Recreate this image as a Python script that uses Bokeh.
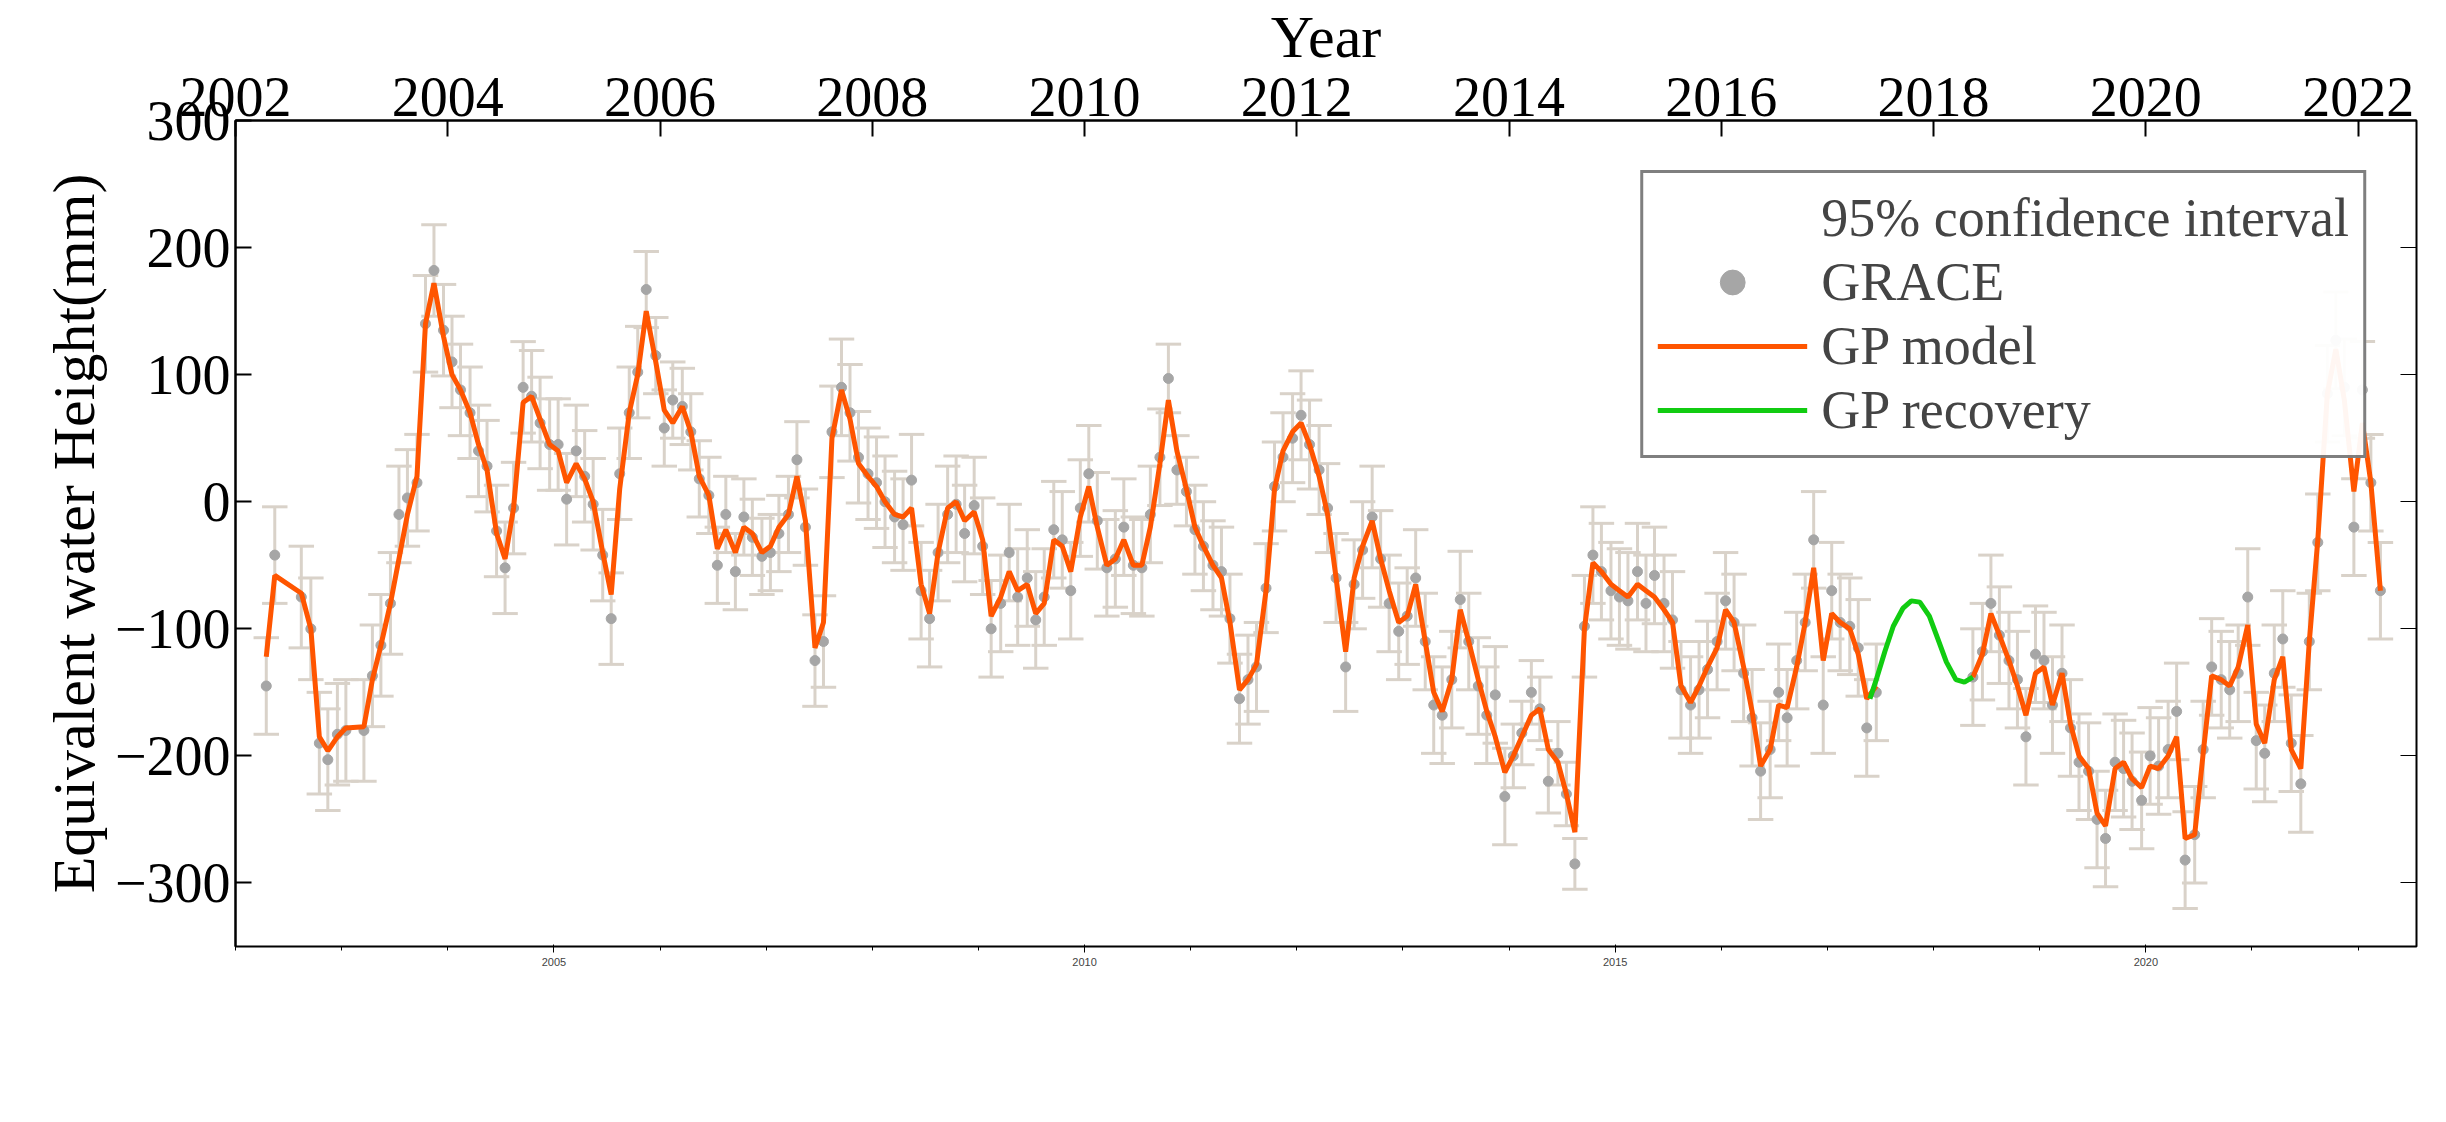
from bokeh.plotting import figure
from bokeh.models import Range1d, Legend, LegendItem, FixedTicker, LinearAxis
from bokeh.embed import file_html
from bokeh.resources import INLINE

# GP model (year, mm)
model_t = [2002.29,2002.37,2002.62,2002.71,2002.79,2002.87,2002.96,
 2003.04,2003.21,2003.29,2003.37,2003.46,2003.54,2003.62,2003.71,2003.79,2003.87,2003.96,
 2004.04,2004.12,2004.21,2004.29,2004.37,2004.46,2004.54,2004.62,2004.71,2004.79,2004.87,2004.96,
 2005.04,2005.12,2005.21,2005.29,2005.37,2005.46,2005.54,2005.62,2005.71,2005.79,2005.87,2005.96,
 2006.04,2006.12,2006.21,2006.29,2006.37,2006.46,2006.54,2006.62,2006.71,2006.79,2006.87,2006.96,
 2007.04,2007.12,2007.21,2007.29,2007.37,2007.46,2007.54,2007.62,2007.71,2007.79,2007.87,2007.96,
 2008.04,2008.12,2008.21,2008.29,2008.37,2008.46,2008.54,2008.62,2008.71,2008.79,2008.87,2008.96,
 2009.04,2009.12,2009.21,2009.29,2009.37,2009.46,2009.54,2009.62,2009.71,2009.79,2009.87,2009.96,
 2010.04,2010.12,2010.21,2010.29,2010.37,2010.46,2010.54,2010.62,2010.71,2010.79,2010.87,2010.96,
 2011.04,2011.12,2011.21,2011.29,2011.37,2011.46,2011.54,2011.62,2011.71,2011.79,2011.87,2011.96,
 2012.04,2012.12,2012.21,2012.29,2012.37,2012.46,2012.54,2012.62,2012.71,2012.79,2012.87,2012.96,
 2013.04,2013.12,2013.21,2013.29,2013.37,2013.46,2013.54,2013.62,2013.71,2013.79,2013.87,2013.96,
 2014.04,2014.12,2014.21,2014.29,2014.37,2014.46,2014.54,2014.62,2014.71,2014.79,2014.87,2014.96,
 2015.04,2015.12,2015.21,2015.29,2015.37,2015.46,2015.54,2015.62,2015.71,2015.79,2015.87,2015.96,
 2016.04,2016.12,2016.21,2016.29,2016.37,2016.46,2016.54,2016.62,2016.71,2016.79,2016.87,2016.96,
 2017.04,2017.12,2017.21,2017.29,2017.37,2017.46,
 2018.37,2018.46,2018.54,2018.62,2018.71,2018.79,2018.87,2018.96,
 2019.04,2019.12,2019.21,2019.29,2019.37,2019.46,2019.54,2019.62,2019.71,2019.79,2019.87,2019.96,
 2020.04,2020.12,2020.21,2020.29,2020.37,2020.46,2020.54,2020.62,2020.71,2020.79,2020.87,2020.96,
 2021.04,2021.12,2021.21,2021.29,2021.37,2021.46,2021.54,2021.62,2021.71,2021.79,2021.87,2021.96,
 2022.04,2022.12,2022.21]
model_v = [-122,-58,-72,-100,-185,-196,-185,
 -178,-177,-140,-113,-80,-45,-10,20,140,172,130,
 100,88,70,45,25,-25,-45,-5,78,83,65,45,
 40,15,30,18,0,-40,-73,10,70,100,150,110,
 72,62,75,55,20,5,-37,-22,-40,-20,-25,-40,
 -35,-20,-10,20,-15,-115,-95,50,88,65,30,20,
 12,0,-10,-12,-5,-65,-88,-40,-5,0,-15,-8,
 -30,-90,-75,-55,-70,-65,-88,-80,-30,-35,-55,-12,
 12,-20,-50,-45,-30,-50,-50,-20,30,80,40,10,
 -20,-35,-50,-60,-95,-148,-140,-128,-70,10,40,55,
 62,45,20,-10,-60,-118,-60,-35,-15,-45,-70,-95,
 -90,-65,-110,-150,-165,-140,-85,-110,-140,-165,-185,-213,
 -200,-185,-168,-163,-195,-205,-230,-260,-100,-48,-55,-65,
 -70,-75,-65,-70,-75,-85,-95,-145,-158,-145,-130,-115,
 -85,-95,-130,-165,-208,-195,-160,-162,-130,-95,-52,-125,
 -88,-95,-100,-120,-155,-145,
 -138,-120,-88,-105,-125,-145,-168,-135,
 -130,-160,-135,-175,-200,-210,-245,-255,-210,-205,-218,-225,
 -208,-210,-200,-185,-265,-262,-198,-137,-140,-145,-130,-97,
 -175,-190,-140,-122,-195,-210,-110,-30,85,120,80,8,
 62,15,-70]

# GRACE observations (same epochs as model)
grace_v = [-145,-42,-75,-100,-190,-203,-183,
 -180,-180,-137,-113,-80,-10,3,15,140,182,135,
 110,88,70,40,28,-23,-52,-5,90,83,62,45,
 45,2,40,20,-2,-42,-92,22,70,102,167,115,
 58,80,75,55,18,5,-50,-10,-55,-12,-28,-43,
 -40,-25,-10,33,-20,-125,-110,55,90,70,35,22,
 15,0,-12,-18,17,-70,-92,-40,-10,-2,-25,-3,
 -35,-100,-80,-40,-75,-60,-93,-75,-22,-30,-70,-5,
 22,-15,-52,-45,-20,-50,-52,-10,35,97,25,8,
 -22,-35,-50,-55,-92,-155,-140,-130,-68,12,35,50,
 68,45,25,-5,-60,-130,-65,-38,-12,-45,-80,-102,
 -90,-60,-110,-160,-168,-140,-77,-110,-145,-168,-152,-232,
 -200,-182,-150,-163,-220,-198,-230,-285,-98,-42,-55,-70,
 -75,-78,-55,-80,-58,-80,-93,-148,-160,-148,-132,-110,
 -78,-95,-135,-170,-212,-195,-150,-170,-125,-95,-30,-160,
 -70,-95,-98,-115,-178,-150,
 -138,-118,-80,-105,-125,-140,-185,-120,
 -125,-160,-135,-178,-205,-212,-250,-265,-205,-210,-220,-235,
 -200,-208,-195,-165,-282,-262,-195,-130,-140,-148,-135,-75,
 -188,-198,-135,-108,-190,-222,-110,-32,85,127,90,-20,
 88,15,-70]
grace_err = [38,38,40,40,40,40,40,
 40,40,40,40,40,38,38,38,38,36,36,
 36,36,36,36,36,36,36,36,36,36,36,36,
 36,36,36,36,36,36,36,36,36,36,30,30,
 30,30,30,30,30,30,30,30,30,30,30,30,
 30,30,30,30,30,36,36,36,38,38,36,36,
 36,36,36,36,36,38,38,38,38,38,38,38,
 38,38,38,38,38,38,38,38,38,38,38,38,
 38,38,38,38,38,38,38,38,38,27,27,27,
 35,35,35,35,35,35,35,35,35,35,35,35,
 35,35,35,35,35,35,35,38,40,38,38,38,
 38,38,38,38,38,38,38,38,38,38,38,38,
 25,25,25,25,25,25,25,20,40,38,38,38,
 38,38,38,38,38,38,38,38,38,38,38,38,
 38,38,38,38,38,38,38,38,38,38,38,38,
 38,38,38,38,38,38,
 38,38,38,38,38,38,38,38,
 38,38,38,38,38,38,38,38,38,38,38,38,
 38,38,38,38,38,38,38,38,38,38,38,38,
 38,38,38,38,38,38,38,38,38,38,38,38,
 38,38,38]

# GP recovery (gap)
rec_t = [2017.40,2017.46,2017.54,2017.62,2017.71,2017.79,2017.87,2017.96,2018.04,2018.12,2018.21,2018.29,2018.37]
rec_v = [-155,-140,-118,-98,-84,-78,-79,-90,-108,-126,-140,-142,-138]

x_ticks = [2002,2004,2006,2008,2010,2012,2014,2016,2018,2020,2022]
y_ticks = [-300,-200,-100,0,100,200,300]

FONT = "Liberation Serif"
p = figure(width=2430, height=1106, output_backend="svg", toolbar_location=None,
           x_range=Range1d(2002, 2022.55), y_range=Range1d(-350, 300),
           min_border_left=235, min_border_right=14, min_border_top=36, min_border_bottom=160)
p.grid.visible = False
p.outline_line_color = "black"
p.outline_line_width = 2
p.background_fill_color = "white"

hw = 0.12
lo = [v - e for v, e in zip(grace_v, grace_err)]
hi = [v + e for v, e in zip(grace_v, grace_err)]
xl = [t - hw for t in model_t]
xr = [t + hw for t in model_t]
ecol = "#d9d2c9"
p.segment(model_t, lo, model_t, hi, line_color=ecol, line_width=3)
p.segment(xl, lo, xr, lo, line_color=ecol, line_width=3)
p.segment(xl, hi, xr, hi, line_color=ecol, line_width=3)
gr = p.scatter(model_t, grace_v, size=10, fill_color="#a6a6a6", line_color="#a6a6a6")
ml = p.line(model_t[:180], model_v[:180], line_color="#ff5500", line_width=5)
p.line(model_t[180:], model_v[180:], line_color="#ff5500", line_width=5)
rl = p.line(rec_t, rec_v, line_color="#11cc11", line_width=5)

# legend-only proxies
eb_proxy = p.scatter([float("nan")], [float("nan")], marker="line", size=48,
                     line_color=ecol, line_width=4)
gr_proxy = p.scatter([float("nan")], [float("nan")], size=10,
                     fill_color="#a6a6a6", line_color="#a6a6a6")

legend = Legend(items=[LegendItem(label="95% confidence interval", renderers=[eb_proxy]),
                       LegendItem(label="GRACE", renderers=[gr_proxy]),
                       LegendItem(label="GP model", renderers=[ml]),
                       LegendItem(label="GP recovery", renderers=[rl])],
                location="top_right", label_text_font=FONT, label_text_font_size="54px",
                border_line_color="black", border_line_width=3, glyph_width=150,
                label_height=62, glyph_height=62, spacing=2, padding=14,
                margin=0, label_standoff=14)
legend.location = (0, 0)
p.add_layout(legend)
legend.location = "top_right"
legend.margin = 50

p.add_layout(LinearAxis(major_label_text_font_size="0px", major_tick_in=16, major_tick_out=0,
                        minor_tick_line_color=None, ticker=FixedTicker(ticks=x_ticks)), "above")
p.add_layout(LinearAxis(major_label_text_font_size="0px", major_tick_in=16, major_tick_out=0,
                        minor_tick_line_color=None, ticker=FixedTicker(ticks=y_ticks)), "right")

for ax in (p.xaxis[0], p.yaxis[0]):
    ax.major_label_text_font = FONT
    ax.major_label_text_font_size = "56px"
    ax.major_label_text_color = "black"
    ax.axis_label_text_font = FONT
    ax.axis_label_text_font_size = "60px"
    ax.axis_label_text_font_style = "normal"
    ax.axis_label_text_color = "black"
    ax.major_tick_in = 16
    ax.major_tick_out = 0
    ax.minor_tick_line_color = None
    ax.axis_line_width = 2
    ax.major_tick_line_width = 2
p.xaxis[0].ticker = FixedTicker(ticks=x_ticks)
p.yaxis[0].ticker = FixedTicker(ticks=y_ticks)
p.xaxis[0].axis_label = "Year"
p.yaxis[0].axis_label = "Equivalent water Height(mm)"

open("out.html", "w").write(file_html(p, INLINE))
